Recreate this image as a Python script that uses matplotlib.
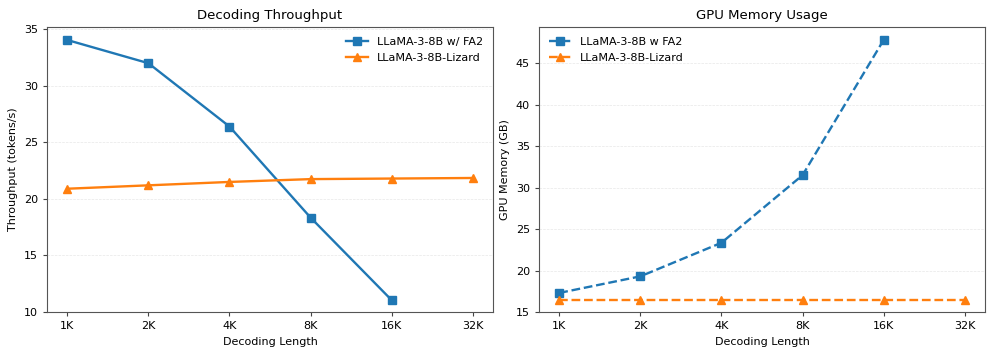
import matplotlib
matplotlib.use("Agg")
import matplotlib.pyplot as plt

lengths = ["1K", "2K", "4K", "8K", "16K", "32K"]
thr_fa2 = [34.05, 32.0, 26.4, 18.35, 11.05]
thr_lizard = [20.9, 21.2, 21.5, 21.75, 21.8, 21.85]
mem_fa2 = [17.3, 19.3, 23.35, 31.5, 47.8]
mem_lizard = [16.4, 16.4, 16.4, 16.4, 16.4, 16.4]

blue = "#1f77b4"
orange = "#ff7f0e"

fig = plt.figure(figsize=(9.97, 3.56), dpi=100)
ax1 = fig.add_axes([47/997, 1-312/356, 446/997, 285/356])
ax2 = fig.add_axes([539/997, 1-312/356, 446/997, 285/356])

x_all = list(range(len(lengths)))

ax1.plot(x_all[:len(thr_fa2)], thr_fa2, marker="s", color=blue, lw=1.7, ms=6, label="LLaMA-3-8B w/ FA2")
ax1.plot(x_all[:len(thr_lizard)], thr_lizard, marker="^", color=orange, lw=1.7, ms=6, label="LLaMA-3-8B-Lizard")
ax1.set_title("Decoding Throughput", fontsize=9.5)
ax1.set_ylabel("Throughput (tokens/s)", fontsize=8)
ax1.set_ylim(bottom=10)
ax1.legend(loc="upper right", frameon=False, fontsize=8)

ax2.plot(x_all[:len(mem_fa2)], mem_fa2, marker="s", color=blue, lw=1.7, ms=6, ls="--", label="LLaMA-3-8B w FA2")
ax2.plot(x_all[:len(mem_lizard)], mem_lizard, marker="^", color=orange, lw=1.7, ms=6, ls="--", label="LLaMA-3-8B-Lizard")
ax2.set_title("GPU Memory Usage", fontsize=9.5)
ax2.set_ylabel("GPU Memory (GB)", fontsize=8)
ax2.set_ylim(bottom=15)
ax2.legend(loc="upper left", frameon=False, fontsize=8)

for ax in (ax1, ax2):
    ax.set_xticks(x_all)
    ax.set_xticklabels(lengths)
    ax.set_xlabel("Decoding Length", fontsize=8)
    ax.tick_params(labelsize=8, color="#444444", length=3)
    ax.grid(axis="y", ls="--", lw=0.5, color="#dddddd", alpha=0.7)
    for s in ax.spines.values():
        s.set_color("#555555")

fig.savefig("out.png", dpi=100)
